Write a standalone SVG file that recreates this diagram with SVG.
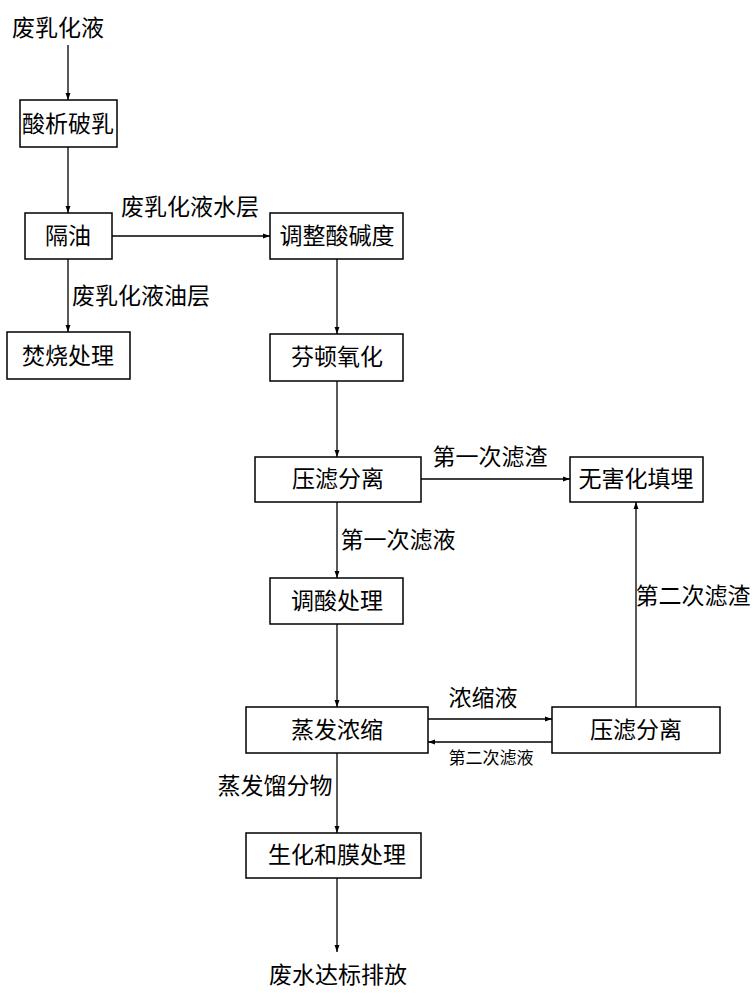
<svg xmlns="http://www.w3.org/2000/svg" width="755" height="1000" viewBox="0 0 755 1000">
<style>
rect{fill:#fff;stroke:#000;stroke-width:1.5}
text{font-family:"Liberation Sans","Noto Sans CJK SC",sans-serif;font-size:23px;fill:#000;text-anchor:middle;dominant-baseline:central}
.s{font-size:17px}
line,polyline{stroke:#000;stroke-width:1.3;fill:none;marker-end:url(#a)}
</style>
<defs><marker id="a" viewBox="0 0 10 10" refX="10" refY="5" markerWidth="10" markerHeight="7" markerUnits="userSpaceOnUse" orient="auto"><path d="M0,1.5L10,5L0,8.5z" fill="#000"/></marker></defs>
<text x="58" y="28">废乳化液</text>
<g id="n1"><rect x="20" y="100" width="97" height="47"/><text x="68" y="124">酸析破乳</text></g>
<g id="n2"><rect x="25" y="213" width="87" height="46"/><text x="68" y="236">隔油</text></g>
<g id="n3"><rect x="7" y="332" width="123" height="47"/><text x="68" y="356">焚烧处理</text></g>
<g id="n4"><rect x="270" y="213" width="133" height="46"/><text x="337" y="236">调整酸碱度</text></g>
<g id="n5"><rect x="270" y="334" width="133" height="47"/><text x="337" y="357">芬顿氧化</text></g>
<g id="n6"><rect x="255" y="457" width="166" height="45"/><text x="338" y="479">压滤分离</text></g>
<g id="n7"><rect x="570" y="457" width="133" height="45"/><text x="636" y="479">无害化填埋</text></g>
<g id="n8"><rect x="270" y="578" width="133" height="46"/><text x="337" y="601">调酸处理</text></g>
<g id="n9"><rect x="246" y="707" width="182" height="46"/><text x="337" y="730">蒸发浓缩</text></g>
<g id="n10"><rect x="552" y="707" width="168" height="46"/><text x="636" y="730">压滤分离</text></g>
<g id="n11"><rect x="246" y="833" width="175" height="45"/><text x="337" y="855">生化和膜处理</text></g>
<text x="338" y="975">废水达标排放</text>
<g id="edges">
<line x1="68" y1="45" x2="68" y2="100"/>
<line x1="68" y1="147" x2="68" y2="213"/>
<line x1="112" y1="236" x2="270" y2="236"/>
<line x1="68" y1="259" x2="68" y2="332"/>
<line x1="337" y1="259" x2="337" y2="334"/>
<line x1="337" y1="381" x2="337" y2="457"/>
<line x1="421" y1="479" x2="570" y2="479"/>
<line x1="337" y1="502" x2="337" y2="578"/>
<line x1="337" y1="624" x2="337" y2="707"/>
<line x1="428" y1="719" x2="552" y2="719"/>
<line x1="552" y1="742" x2="428" y2="742"/>
<line x1="636" y1="707" x2="636" y2="502"/>
<line x1="337" y1="753" x2="337" y2="833"/>
<line x1="337" y1="878" x2="337" y2="952"/>
</g>
<text x="190" y="207">废乳化液水层</text>
<text x="141" y="296">废乳化液油层</text>
<text x="490" y="457">第一次滤渣</text>
<text x="398" y="540">第一次滤液</text>
<text x="693" y="596">第二次滤渣</text>
<text x="483" y="698">浓缩液</text>
<text class="s" x="491" y="758">第二次滤液</text>
<text x="275" y="786">蒸发馏分物</text>
</svg>
